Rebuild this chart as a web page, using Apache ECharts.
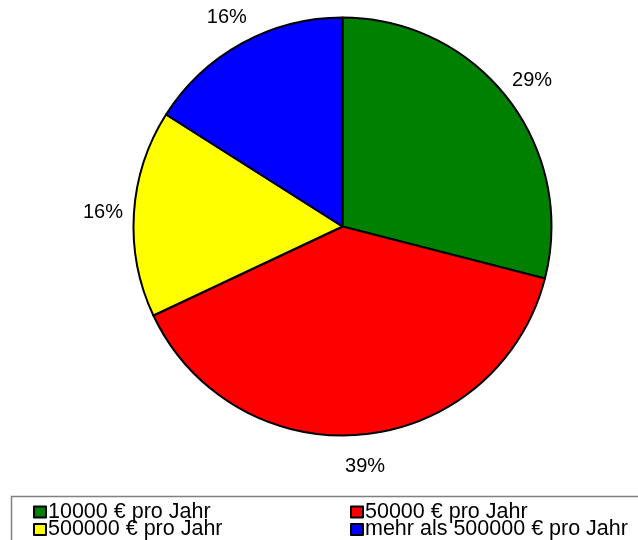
<!DOCTYPE html>
<html>
<head>
<meta charset="utf-8">
<script src="https://cdn.jsdelivr.net/npm/echarts@6/dist/echarts.min.js"></script>
<style>
html,body{margin:0;padding:0;background:#fff;}
#chart{width:638px;height:540px;}
</style>
</head>
<body>
<div id="chart"></div>
<script>
const categories = ['10000 € pro Jahr', '50000 € pro Jahr', '500000 € pro Jahr', 'mehr als 500000 € pro Jahr'];
const values = [29, 39, 16, 16];
const colors = ['#008000', '#ff0000', '#ffff00', '#0000ff'];

const FONT = "'Liberation Sans', Arial, Helvetica, sans-serif";
const pieData = categories.map((c, i) => ({ name: c, value: values[i], itemStyle: { color: colors[i] } }));
const labelData = categories.map((c, i) => ({ name: c, value: values[i] }));

// legend layout: [left, top] for each category (two columns, two rows)
const legendPos = [[33, 501], [350, 501], [33, 518.5], [350, 518.5]];
const legends = categories.map((c, i) => ({
  orient: 'vertical', left: legendPos[i][0], top: legendPos[i][1], padding: 0, itemGap: 0,
  itemWidth: 12, itemHeight: 11, icon: 'rect',
  data: [c],
  itemStyle: { borderColor: '#000', borderWidth: 2 },
  textStyle: { fontSize: 21.5, lineHeight: 17, color: '#000', fontFamily: FONT, padding: [0, 0, 0, -3] },
  selectedMode: false
}));

const chart = echarts.init(document.getElementById('chart'), null, { renderer: 'canvas' });
chart.setOption({
  animation: false,
  backgroundColor: '#ffffff',
  textStyle: { fontFamily: FONT },
  graphic: [{
    type: 'rect',
    shape: { x: 11.5, y: 496.5, width: 700, height: 100 },
    style: { fill: 'none', stroke: '#808080', lineWidth: 1.5 },
    silent: true,
    z: -1
  }],
  legend: legends,
  series: [
    {
      type: 'pie',
      center: [342.5, 226.5],
      radius: 209,
      startAngle: 90,
      clockwise: true,
      percentPrecision: 0,
      silent: true,
      emphasis: { disabled: true },
      itemStyle: { borderColor: '#000', borderWidth: 2 },
      label: { show: false },
      labelLine: { show: false },
      data: pieData
    },
    {
      type: 'pie',
      center: [342.5, 226.5],
      radius: [226, 248],
      startAngle: 90,
      clockwise: true,
      percentPrecision: 0,
      silent: true,
      emphasis: { disabled: true },
      itemStyle: { color: 'rgba(0,0,0,0)', borderWidth: 0 },
      label: {
        show: true, position: 'inside', formatter: '{d}%',
        fontSize: 20, color: '#000', fontFamily: FONT, offset: [0, 1]
      },
      labelLine: { show: false },
      data: labelData
    }
  ]
});
</script>
</body>
</html>
